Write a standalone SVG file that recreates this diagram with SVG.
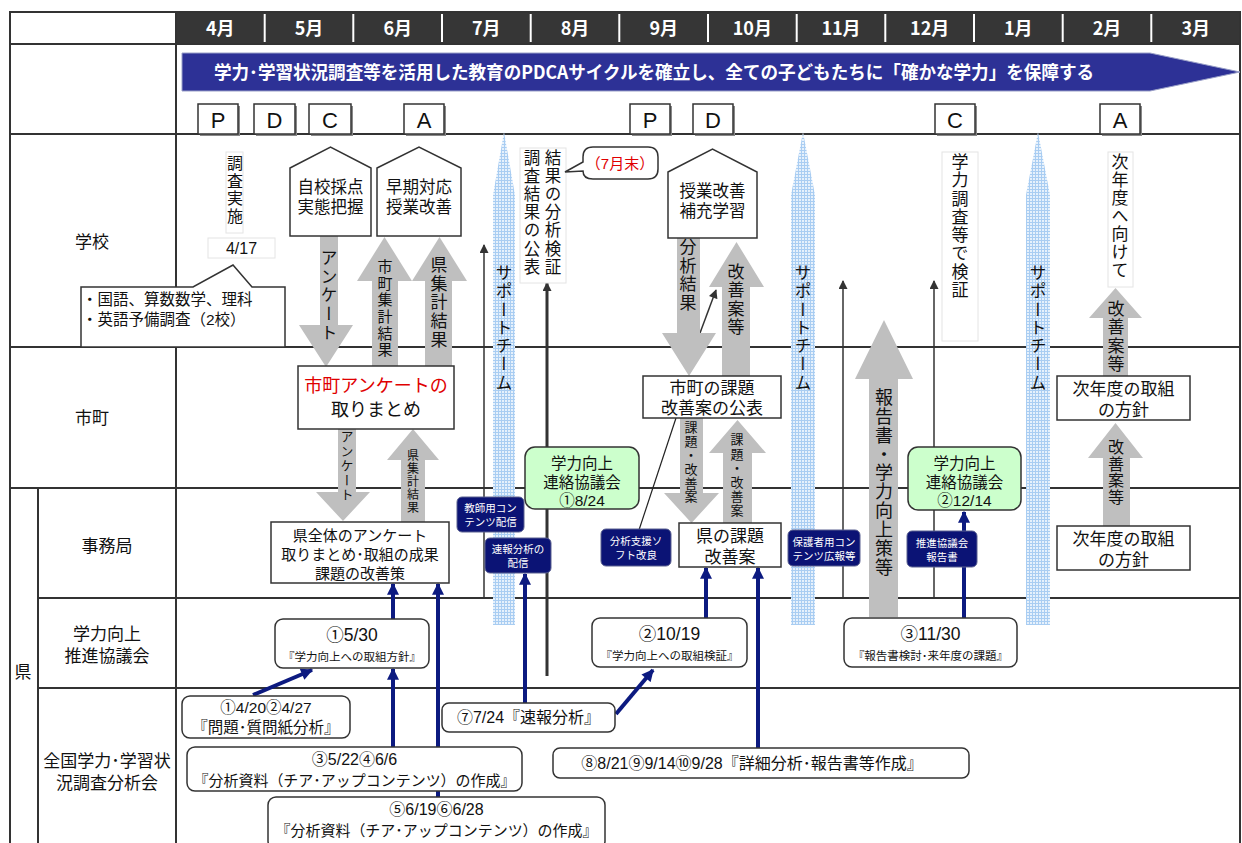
<svg xmlns="http://www.w3.org/2000/svg" width="1242" height="843" viewBox="0 0 1242 843">
<style>
.t{font-family:"Liberation Sans","Noto Sans CJK JP","Noto Sans CJK SC",sans-serif;fill:#111}
.c{text-anchor:middle}
.v{font-family:"Noto Sans CJK JP","Noto Sans CJK SC",sans-serif;fill:#111;writing-mode:vertical-rl}
.g{stroke:#333;stroke-width:2;fill:none}
.box{fill:#fff;stroke:#333;stroke-width:1.5}
.rbox{fill:#fff;stroke:#333;stroke-width:1.5}
.grn{fill:#ccffcc;stroke:#333;stroke-width:1.5}
.nv{fill:#0b1375;stroke:#5a6090;stroke-width:1}
.nvt{font-family:"Liberation Sans","Noto Sans CJK JP","Noto Sans CJK SC",sans-serif;fill:#fff;font-size:10.5px;text-anchor:middle}
.ga{fill:#bfbfbf}
.band{fill:url(#dots)}
.bl{stroke:#0c1a80;stroke-width:4;fill:none;marker-end:url(#bh)}
.kl{stroke:#333;stroke-width:1.5;fill:none;marker-end:url(#kh)}
.mo{font-family:"Noto Sans CJK JP",sans-serif;fill:#fff;font-weight:bold;font-size:18px;text-anchor:middle}
.pd{font-family:"Liberation Sans",sans-serif;font-size:22px;fill:#111;text-anchor:middle}
.vb{fill:#fff;stroke:#e4e4e4;stroke-width:1}
</style>
<defs>
<pattern id="dots" width="3" height="3" patternUnits="userSpaceOnUse">
<rect width="3" height="3" fill="#e6f1fc"/>
<rect width="1" height="3" fill="#a9cdf2"/>
<rect width="3" height="1" fill="#a9cdf2"/>
</pattern>
<marker id="bh" viewBox="0 0 10 10" refX="9" refY="5" markerWidth="14" markerHeight="12" markerUnits="userSpaceOnUse" orient="auto"><path d="M0,0 L10,5 L0,10 z" fill="#0c1a80"/></marker>
<marker id="kh" viewBox="0 0 10 10" refX="9" refY="5" markerWidth="10" markerHeight="9" markerUnits="userSpaceOnUse" orient="auto"><path d="M0,0 L10,5 L0,10 z" fill="#333"/></marker>
</defs>
<rect width="1242" height="843" fill="#fff"/>

<g id="grid">
<rect x="176" y="12" width="1064" height="32" fill="#363636"/>
<g stroke="#fff" stroke-width="2">
<line x1="264.7" y1="14" x2="264.7" y2="42"/><line x1="353.3" y1="14" x2="353.3" y2="42"/><line x1="442" y1="14" x2="442" y2="42"/><line x1="530.7" y1="14" x2="530.7" y2="42"/><line x1="619.3" y1="14" x2="619.3" y2="42"/><line x1="708" y1="14" x2="708" y2="42"/><line x1="796.7" y1="14" x2="796.7" y2="42"/><line x1="885.3" y1="14" x2="885.3" y2="42"/><line x1="974" y1="14" x2="974" y2="42"/><line x1="1062.7" y1="14" x2="1062.7" y2="42"/><line x1="1151.3" y1="14" x2="1151.3" y2="42"/>
</g>
<rect x="10" y="12" width="1230" height="845" class="g"/>
<line x1="10" y1="44" x2="1240" y2="44" class="g"/>
<line x1="10" y1="134" x2="1240" y2="134" class="g"/>
<line x1="10" y1="347" x2="1240" y2="347" class="g"/>
<line x1="10" y1="488" x2="1240" y2="488" class="g"/>
<line x1="38" y1="598" x2="1240" y2="598" class="g"/>
<line x1="38" y1="688" x2="1240" y2="688" class="g"/>
<line x1="176" y1="12" x2="176" y2="843" class="g"/>
<line x1="38" y1="488" x2="38" y2="843" class="g"/>
<text class="mo" x="220.3" y="35">4月</text><text class="mo" x="309" y="35">5月</text><text class="mo" x="397.7" y="35">6月</text><text class="mo" x="486.3" y="35">7月</text><text class="mo" x="575" y="35">8月</text><text class="mo" x="663.7" y="35">9月</text><text class="mo" x="752.3" y="35">10月</text><text class="mo" x="841" y="35">11月</text><text class="mo" x="929.7" y="35">12月</text><text class="mo" x="1018.3" y="35">1月</text><text class="mo" x="1107" y="35">2月</text><text class="mo" x="1195.7" y="35">3月</text>
<text class="t c" x="92" y="248" font-size="17">学校</text>
<text class="t c" x="92" y="424" font-size="17">市町</text>
<text class="t c" x="23" y="678" font-size="17">県</text>
<text class="t c" x="107" y="552" font-size="17">事務局</text>
<text class="t c" x="107" y="640" font-size="17">学力向上</text>
<text class="t c" x="107" y="662" font-size="17">推進協議会</text>
<text class="t c" x="107" y="767" font-size="17">全国学力･学習状</text>
<text class="t c" x="107" y="789" font-size="17">況調査分析会</text>
</g>

<g id="pdca-arrow">
<polygon points="182,53 1150,53 1240,72 1150,91 182,91" fill="#2d3196" stroke="#9aa0c8" stroke-width="1"/>
<text x="654" y="79" font-family="Noto Sans CJK JP,sans-serif" font-weight="bold" font-size="18" fill="#fff" text-anchor="middle" textLength="880" lengthAdjust="spacingAndGlyphs">学力･学習状況調査等を活用した教育のPDCAサイクルを確立し、全ての子どもたちに「確かな学力」を保障する</text>
</g>

<g id="pdca-letters">
<rect x="200" y="106" width="40" height="30" fill="#888"/><rect x="198" y="104" width="40" height="30" class="box"/><text class="pd" x="218" y="128">P</text>
<rect x="256" y="106" width="41" height="30" fill="#888"/><rect x="254" y="104" width="41" height="30" class="box"/><text class="pd" x="274.5" y="128">D</text>
<rect x="311" y="106" width="42" height="30" fill="#888"/><rect x="309" y="104" width="42" height="30" class="box"/><text class="pd" x="330" y="128">C</text>
<rect x="406" y="106" width="40" height="30" fill="#888"/><rect x="404" y="104" width="40" height="30" class="box"/><text class="pd" x="424" y="128">A</text>
<rect x="632" y="106" width="40" height="30" fill="#888"/><rect x="630" y="104" width="40" height="30" class="box"/><text class="pd" x="650" y="128">P</text>
<rect x="695" y="106" width="40" height="30" fill="#888"/><rect x="693" y="104" width="40" height="30" class="box"/><text class="pd" x="713" y="128">D</text>
<rect x="937" y="106" width="40" height="30" fill="#888"/><rect x="935" y="104" width="40" height="30" class="box"/><text class="pd" x="955" y="128">C</text>
<rect x="1102" y="106" width="40" height="30" fill="#888"/><rect x="1100" y="104" width="40" height="30" class="box"/><text class="pd" x="1120" y="128">A</text>
</g>

<g id="support-bands">
<path class="band" d="M504 132 L515 195 V625 H493 V195 Z"/>
<path class="band" d="M803 132 L815 195 V625 H791 V195 Z"/>
<path class="band" d="M1038 132 L1050 195 V625 H1026 V195 Z"/>
<text class="v" x="504" y="264" font-size="17" letter-spacing="1.3">サポートチーム</text>
<text class="v" x="803" y="264" font-size="17" letter-spacing="1.3">サポートチーム</text>
<text class="v" x="1038" y="264" font-size="17" letter-spacing="1.3">サポートチーム</text>
</g>

<g id="connectors">
<line x1="484" y1="598" x2="484" y2="245" class="kl"/>
<line x1="843" y1="598" x2="843" y2="281" class="kl"/>
<line x1="934" y1="598" x2="934" y2="281" class="kl"/>
<line x1="547" y1="676" x2="547" y2="283" stroke="#333" stroke-width="3" marker-end="url(#kh)"/>
<line x1="700" y1="333" x2="716" y2="290" class="kl"/>
<line x1="676" y1="418" x2="639" y2="530" stroke="#222" stroke-width="1.2"/>
<line x1="393" y1="619" x2="393" y2="584" class="bl"/>
<line x1="393" y1="747" x2="393" y2="669" class="bl"/>
<line x1="438" y1="797" x2="438" y2="584" class="bl"/>
<line x1="525" y1="703" x2="525" y2="574" class="bl"/>
<line x1="253" y1="695" x2="312" y2="670" class="bl"/>
<line x1="706" y1="618" x2="706" y2="568" class="bl"/>
<line x1="758" y1="748" x2="758" y2="568" class="bl"/>
<line x1="616" y1="714" x2="653" y2="670" class="bl"/>
<line x1="964" y1="618" x2="964" y2="512" class="bl"/>
</g>

<g id="gray-arrows">
<path class="ga" d="M320 236 H338 V325 H353 L326 367 L299 325 H320 Z"/>
<path class="ga" d="M372 367 V281 H357 L384.5 237 L412 281 H398 V367 Z"/>
<path class="ga" d="M425 367 V281 H412 L439.5 237 L467 281 H452 V367 Z"/>
<path class="ga" d="M338 429 H356 V492 H370 L343 521 L316 492 H338 Z"/>
<path class="ga" d="M401 522 V460 H387 L413 429 L439 460 H425 V522 Z"/>
<path class="ga" d="M677 238 H700 V333 H716 L689 376 L662 333 H677 Z"/>
<path class="ga" d="M722 376 V287 H709 L736.5 242 L764 287 H750 V376 Z"/>
<path class="ga" d="M680 418 H703 V493 H719 L691.5 523 L664 493 H680 Z"/>
<path class="ga" d="M723 523 V453 H709 L737.5 420 L766 453 H752 V523 Z"/>
<path class="ga" d="M869 617 V379 H855 L884 320 L913 379 H898 V617 Z"/>
<path class="ga" d="M1103 376 V318 H1089 L1115.5 288 L1142 318 H1128 V376 Z"/>
<path class="ga" d="M1103 526 V458 H1088 L1115.5 423 L1143 458 H1130 V526 Z"/>
<text class="v" x="329" y="249" font-size="17" letter-spacing="1.7">アンケート</text>
<text class="v" x="385" y="259" font-size="15" letter-spacing="1.6">市町集計結果</text>
<text class="v" x="439" y="256" font-size="17" letter-spacing="1.7">県集計結果</text>
<text class="v" x="347" y="430" font-size="13" letter-spacing="1.5">アンケート</text>
<text class="v" x="413" y="449" font-size="12" letter-spacing="1">県集計結果</text>
<text class="v" x="688" y="238" font-size="17" letter-spacing="1.7">分析結果</text>
<text class="v" x="736" y="263" font-size="17" letter-spacing="1.3">改善案等</text>
<text class="v" x="691" y="421" font-size="13" letter-spacing="0.8">課題・改善案</text>
<text class="v" x="737" y="433" font-size="13" letter-spacing="1.2">課題・改善案</text>
<text class="v" x="884" y="388" font-size="18" letter-spacing="0.9">報告書・学力向上策等</text>
<text class="v" x="1116" y="300" font-size="17" letter-spacing="1.5">改善案等</text>
<text class="v" x="1116" y="439" font-size="16" letter-spacing="0.7">改善案等</text>
</g>

<g id="school-pentagon-1">
<path class="box" d="M290 168 L330.5 147 L371 168 V236 H290 Z"/>
<text class="t c" x="330.5" y="193" font-size="16.5">自校採点</text>
<text class="t c" x="330.5" y="213" font-size="16.5">実態把握</text>
</g>
<g id="school-pentagon-2">
<path class="box" d="M377 168 L419 147 L461 168 V236 H377 Z"/>
<text class="t c" x="419" y="193" font-size="16.5">早期対応</text>
<text class="t c" x="419" y="213" font-size="16.5">授業改善</text>
</g>
<g id="school-pentagon-3">
<path class="box" d="M668 172 L712.5 149 L757 172 V238 H668 Z"/>
<text class="t c" x="712.5" y="197" font-size="16.5">授業改善</text>
<text class="t c" x="712.5" y="217" font-size="16.5">補充学習</text>
</g>

<g id="survey">
<rect class="vb" x="226" y="152" width="17" height="81"/>
<text class="v" x="235" y="155" font-size="16" letter-spacing="1.7">調査実施</text>
<rect class="vb" x="208" y="238" width="67" height="20"/>
<text class="t c" x="241.5" y="254" font-size="16">4/17</text>
</g>
<g id="survey-note">
<path class="box" d="M81 287 H193 L233 265 L252 287 H285 V347 H81 Z"/>
<text class="t" x="82" y="305" font-size="15.5">・国語、算数数学、理科</text>
<text class="t" x="82" y="325" font-size="15.5">・英語予備調査（2校）</text>
</g>

<g id="results-publish">
<rect class="vb" x="520" y="148" width="46" height="135"/>
<text class="v" x="553" y="149" font-size="16.5" letter-spacing="1.7">結果の分析検証</text>
<text class="v" x="532" y="149" font-size="16.5" letter-spacing="1.7">調査結果の公表</text>
</g>
<g id="callout-july">
<path class="box" d="M593 147 H648 Q658 147 658 157 V169 Q658 179 648 179 H593 Q583 179 583 171 L565 172 L583 162 V157 Q583 147 593 147 Z"/>
<text class="t c" x="620" y="169" font-size="15" style="fill:#e00000">（7月末）</text>
</g>
<g id="verify">
<rect class="vb" x="942" y="152" width="36" height="189"/>
<text class="v" x="960" y="153" font-size="17" letter-spacing="1.3">学力調査等で検証</text>
</g>
<g id="next-year">
<rect class="vb" x="1108" y="152" width="25" height="135"/>
<text class="v" x="1120" y="153" font-size="17" letter-spacing="1">次年度へ向けて</text>
</g>

<g id="city-survey">
<rect class="box" x="298" y="366" width="156" height="63"/>
<text class="t c" x="376" y="392" font-size="18" style="fill:#e00000">市町アンケートの</text>
<text class="t c" x="376" y="416" font-size="18">取りまとめ</text>
</g>
<g id="city-issues">
<rect class="box" x="643" y="376" width="138" height="42"/>
<text class="t c" x="712" y="394" font-size="17">市町の課題</text>
<text class="t c" x="712" y="414" font-size="17">改善案の公表</text>
</g>
<g id="city-next">
<rect class="box" x="1057" y="376" width="133" height="44"/>
<text class="t c" x="1123.5" y="394.5" font-size="17">次年度の取組</text>
<text class="t c" x="1123.5" y="415.5" font-size="17">の方針</text>
</g>

<g id="pref-survey">
<rect class="box" x="271" y="522" width="178" height="61"/>
<text class="t c" x="360" y="541" font-size="15">県全体のアンケート</text>
<text class="t c" x="360" y="560" font-size="15">取りまとめ･取組の成果</text>
<text class="t c" x="360" y="579" font-size="15">課題の改善策</text>
</g>
<g id="pref-issues">
<rect class="box" x="679" y="523" width="102" height="44"/>
<text class="t c" x="730" y="541.5" font-size="17">県の課題</text>
<text class="t c" x="730" y="562.5" font-size="17">改善案</text>
</g>
<g id="pref-next">
<rect class="box" x="1057" y="526" width="133" height="44"/>
<text class="t c" x="1123.5" y="544.5" font-size="17">次年度の取組</text>
<text class="t c" x="1123.5" y="565.5" font-size="17">の方針</text>
</g>

<g id="liaison-1">
<rect class="grn" x="525" y="447" width="114" height="62" rx="10"/>
<text class="t c" x="582" y="469" font-size="15.5">学力向上</text>
<text class="t c" x="582" y="487.5" font-size="15.5">連絡協議会</text>
<text class="t c" x="582" y="506" font-size="15.5">①8/24</text>
</g>
<g id="liaison-2">
<rect class="grn" x="908" y="447" width="113" height="63" rx="10"/>
<text class="t c" x="964.5" y="469" font-size="15.5">学力向上</text>
<text class="t c" x="964.5" y="487.5" font-size="15.5">連絡協議会</text>
<text class="t c" x="964.5" y="506" font-size="15.5">②12/14</text>
</g>

<g id="navy-teacher">
<rect class="nv" x="457" y="497" width="67" height="35" rx="5"/>
<text class="nvt" x="490.5" y="512">教師用コン</text><text class="nvt" x="490.5" y="526">テンツ配信</text>
</g>
<g id="navy-quick">
<rect class="nv" x="485" y="538" width="66" height="35" rx="5"/>
<text class="nvt" x="518" y="553">速報分析の</text><text class="nvt" x="518" y="567">配信</text>
</g>
<g id="navy-soft">
<rect class="nv" x="601" y="529" width="70" height="37" rx="5"/>
<text class="nvt" x="636" y="545">分析支援ソ</text><text class="nvt" x="636" y="559">フト改良</text>
</g>
<g id="navy-parent">
<rect class="nv" x="788" y="530" width="72" height="36" rx="5"/>
<text class="nvt" x="824" y="546">保護者用コン</text><text class="nvt" x="824" y="560">テンツ広報等</text>
</g>
<g id="navy-report">
<rect class="nv" x="907" y="531" width="70" height="36" rx="5"/>
<text class="nvt" x="942" y="547">推進協議会</text><text class="nvt" x="942" y="561">報告書</text>
</g>

<g id="council-1">
<rect class="rbox" x="275" y="619" width="154" height="49" rx="8"/>
<text class="t c" x="352" y="641" font-size="17.5">①5/30</text>
<text class="t c" x="352" y="661" font-size="11.5">『学力向上への取組方針』</text>
</g>
<g id="council-2">
<rect class="rbox" x="592" y="618" width="155" height="49" rx="8"/>
<text class="t c" x="669.5" y="640" font-size="17.5">②10/19</text>
<text class="t c" x="669.5" y="660" font-size="11.5">『学力向上への取組検証』</text>
</g>
<g id="council-3">
<rect class="rbox" x="844" y="618" width="173" height="49" rx="8"/>
<text class="t c" x="930.5" y="640" font-size="17.5">③11/30</text>
<text class="t c" x="930.5" y="660" font-size="11.5">『報告書検討･来年度の課題』</text>
</g>

<g id="analysis-1">
<rect class="rbox" x="182" y="696" width="168" height="42" rx="8"/>
<text class="t c" x="266" y="713" font-size="15.5">①4/20②4/27</text>
<text class="t c" x="266" y="733" font-size="15.5">『問題･質問紙分析』</text>
</g>
<g id="analysis-7">
<rect class="rbox" x="442" y="703" width="173" height="29" rx="7"/>
<text class="t c" x="528.5" y="723" font-size="16">⑦7/24『速報分析』</text>
</g>
<g id="analysis-3">
<rect class="rbox" x="187" y="747" width="335" height="44" rx="8"/>
<text class="t c" x="354.5" y="765" font-size="16">③5/22④6/6</text>
<text class="t c" x="354.5" y="786" font-size="15" textLength="322" lengthAdjust="spacingAndGlyphs">『分析資料（チア･アップコンテンツ）の作成』</text>
</g>
<g id="analysis-8">
<rect class="rbox" x="553" y="748" width="416" height="30" rx="7"/>
<text class="t c" x="752" y="769" font-size="16">⑧8/21⑨9/14⑩9/28『詳細分析･報告書等作成』</text>
</g>
<g id="analysis-5">
<rect class="rbox" x="268" y="797" width="337" height="52" rx="8"/>
<text class="t c" x="436.5" y="815" font-size="16">⑤6/19⑥6/28</text>
<text class="t c" x="436.5" y="836" font-size="15" textLength="322" lengthAdjust="spacingAndGlyphs">『分析資料（チア･アップコンテンツ）の作成』</text>
</g>
</svg>
